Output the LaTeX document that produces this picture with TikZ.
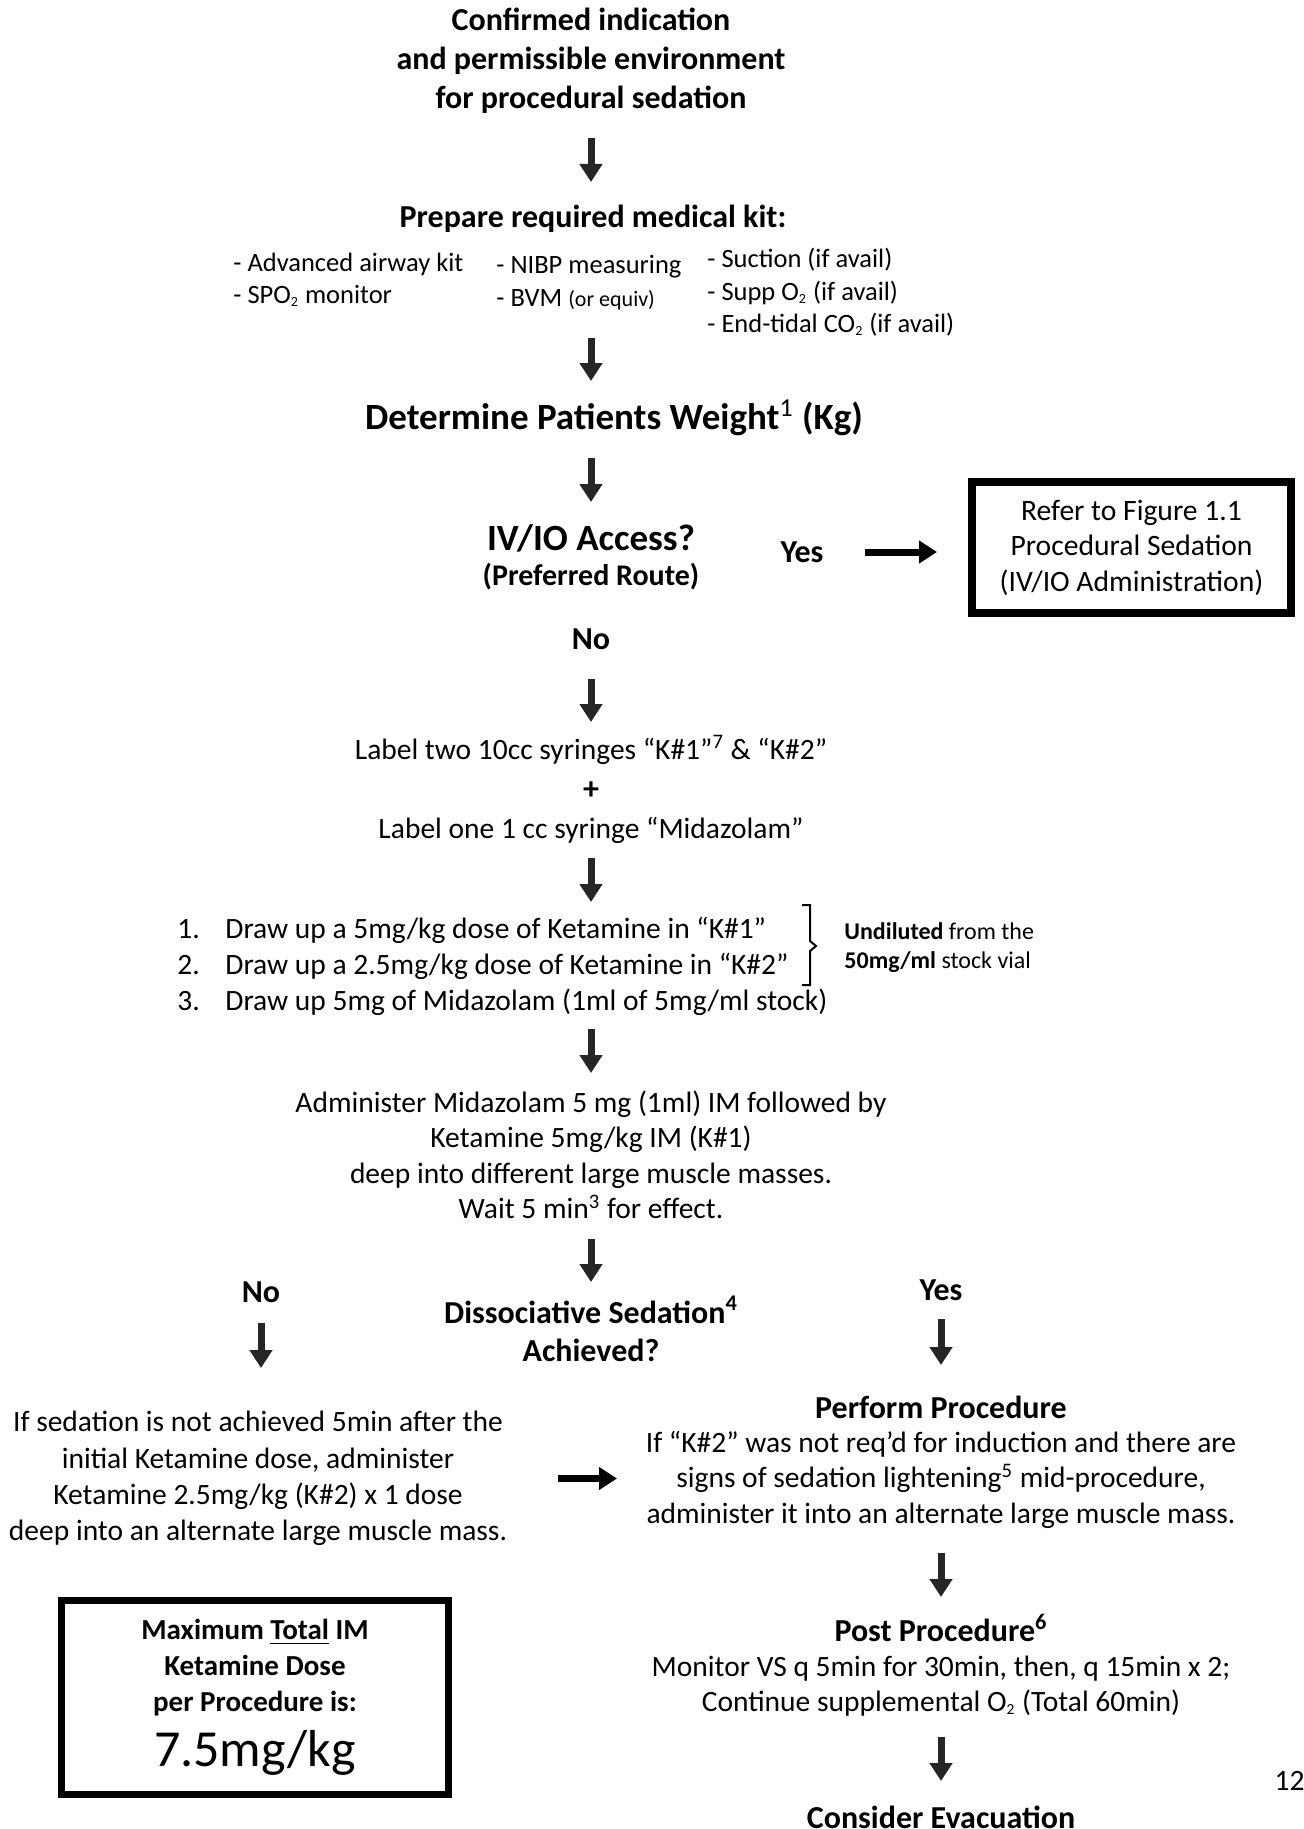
\documentclass[tikz,border=0pt]{standalone}
\usepackage{fontspec}
\setmainfont{Carlito}
\usepackage{tikz}
\usetikzlibrary{arrows.meta}
\definecolor{arrowgray}{RGB}{38,38,38}

\begin{document}
\begin{tikzpicture}[x=0.5pt, y=-0.5pt,
		txt/.style={inner sep=0pt, align=center, font=\fontsize{14.75}{17.8}\selectfont},
		head/.style={inner sep=0pt, align=center, font=\bfseries\fontsize{16}{19.2}\selectfont},
		bighead/.style={inner sep=0pt, align=center, font=\bfseries\fontsize{18.5}{22}\selectfont},
		kit/.style={inner sep=0pt, align=left, anchor=west, font=\fontsize{13.25}{16.3}\selectfont},
		arr/.style={draw=arrowgray, line width=3.5pt, -{Triangle[width=11pt,length=9pt]}},
		harr/.style={arr, draw=black},
		thickbox/.style={draw, line width=4pt}]
	\useasboundingbox (0,0) rectangle (1304,1829);

	\node[head, font=\bfseries\fontsize{16}{19.6}\selectfont] (node1) at (591, 61) {Confirmed indication\\and permissible environment\\for procedural sedation};
	\node[head] (node2) at (593, 219) {Prepare required medical kit:};
	\node[kit] (node3) at (233, 280) {- Advanced airway kit\\- SPO{\fontsize{10}{12}\selectfont\textsubscript{2}} monitor};
	\node[kit] (node4) at (496, 282.5) {- NIBP measuring\\- BVM {\fontsize{11}{13}\selectfont (or equiv)}};
	\node[kit] (node5) at (707, 292.5) {- Suction (if avail)\\- Supp O{\fontsize{10}{12}\selectfont\textsubscript{2}} (if avail)\\- End-tidal CO{\fontsize{10}{12}\selectfont\textsubscript{2}} (if avail)};
	\node[bighead] (node6) at (614, 418) {Determine Patients Weight{\mdseries\textsuperscript{1}} (Kg)};

	\node[bighead] (node7) at (591, 538) {IV/IO Access?};
	\node[head, font=\bfseries\fontsize{15}{17}\selectfont] (node8) at (591, 577) {(Preferred Route)};
	\node[head] (node9) at (802, 552) {Yes};
	\node[txt, thickbox, font=\fontsize{14.8}{17.75}\selectfont, minimum width=159.5pt, minimum height=65.5pt] (node10) at (1131.5, 547.5) {Refer to Figure 1.1\\Procedural Sedation\\(IV/IO Administration)};
	\node[head] (node11) at (591, 639) {No};

	\node[txt] (node12) at (591, 750) {Label two 10cc syringes “K\#1”\textsuperscript{7} \& “K\#2”};
	\node[head] (node13) at (591, 791) {+};
	\node[txt] (node14) at (591, 830) {Label one 1 cc syringe “Midazolam”};
	\node[txt, align=left, anchor=west, font=\fontsize{14.75}{18}\selectfont] (node15) at (177, 966) {\makebox[24pt][l]{1.}Draw up a 5mg/kg dose of Ketamine in “K\#1”\\\makebox[24pt][l]{2.}Draw up a 2.5mg/kg dose of Ketamine in “K\#2”\\\makebox[24pt][l]{3.}Draw up 5mg of Midazolam (1ml of 5mg/ml stock)};
	\draw[line width=1pt] (802,905) -- (810,905) -- (810,941) -- (816,946) -- (810,951) -- (810,985) -- (802,985);
	\node[txt, align=left, anchor=west, font=\fontsize{12}{14.5}\selectfont] (node16) at (844, 947.5) {\textbf{Undiluted} from the\\\textbf{50mg/ml} stock vial};

	\node[txt, font=\fontsize{14.75}{17.7}\selectfont] (node17) at (591, 1155) {Administer Midazolam 5 mg (1ml) IM followed by\\Ketamine 5mg/kg IM (K\#1)\\deep into different large muscle masses.\\Wait 5 min\textsuperscript{3} for effect.};
	\node[head] (node18) at (591, 1329) {Dissociative Sedation\textsuperscript{4}\\Achieved?};
	\node[head] (node19) at (261, 1292) {No};
	\node[head] (node20) at (941, 1290) {Yes};

	\node[txt, font=\fontsize{14.75}{18.15}\selectfont] (node21) at (258, 1478.5) {If sedation is not achieved 5min after the\\initial Ketamine dose, administer\\Ketamine 2.5mg/kg (K\#2) x 1 dose\\deep into an alternate large muscle mass.};
	\node[head] (node22) at (941, 1407) {Perform Procedure};
	\node[txt] (node23) at (941, 1479.5) {If “K\#2” was not req’d for induction and there are\\signs of sedation lightening\textsuperscript{5} mid-procedure,\\administer it into an alternate large muscle mass.};
	\node[head] (node24) at (941, 1628) {Post Procedure\textsuperscript{6}};
	\node[txt] (node25) at (941, 1686) {Monitor VS q 5min for 30min, then, q 15min x 2;\\Continue supplemental O{\fontsize{11}{12}\selectfont\textsubscript{2}} (Total 60min)};
	\node[head] (node26) at (941, 1817) {Consider Evacuation};

	\node[thickbox, line width=3.5pt, inner sep=0pt, align=center, font=\bfseries\fontsize{14.5}{18}\selectfont, minimum width=193.5pt, minimum height=97pt] (node27) at (255, 1697.5) {Maximum \underline{Total} IM\\Ketamine Dose\\per Procedure is:\\[6pt]{\mdseries\fontsize{26}{30}\selectfont 7.5mg/kg}};
	\node[txt] (node28) at (1289.5, 1781) {12};

	% down the middle
	\draw[arr, shorten <=38.5pt, shorten >=18.5pt] (node1.center) -- (node1.center |- node2.center);
	\draw[arr, shorten <=59.5pt, shorten >=18.5pt] (node1.center |- node2.center) -- (node1.center |- node6.center);
	\draw[arr, shorten <=20pt, shorten >=18pt] (node7.center |- node6.center) -- (node7.center);
	\draw[arr, shorten <=20pt, shorten >=14pt] (node11.center) -- (node12.center);
	\draw[arr, shorten <=14pt, shorten >=32pt] (node14.center) -- (node14.center |- node15.center);
	\draw[arr, shorten <=31.5pt, shorten >=41pt] (node17.center |- node15.center) -- (node17.center);
	\draw[arr, shorten <=42pt, shorten >=23.5pt] (node17.center) -- (node18.center);
	\draw[arr, shorten <=15.5pt, shorten >=55.25pt] (node19.center) -- (node19.center |- node21.center);
	\draw[arr, shorten <=14.5pt, shorten >=21pt] (node20.center) -- (node22.center);
	\draw[arr, shorten <=36.75pt, shorten >=15.5pt] (node23.center) -- (node24.center);
	\draw[arr, shorten <=25.5pt, shorten >=18pt] (node25.center) -- (node26.center);
	% sideways
	\draw[harr, shorten <=31.5pt, shorten >=97.25pt] (node9.center) -- (node9.center -| node10.center);
	\draw[harr, shorten <=150pt, shorten >=162pt] (node21.center) -- (node21.center -| node23.center);
\end{tikzpicture}
\end{document}
